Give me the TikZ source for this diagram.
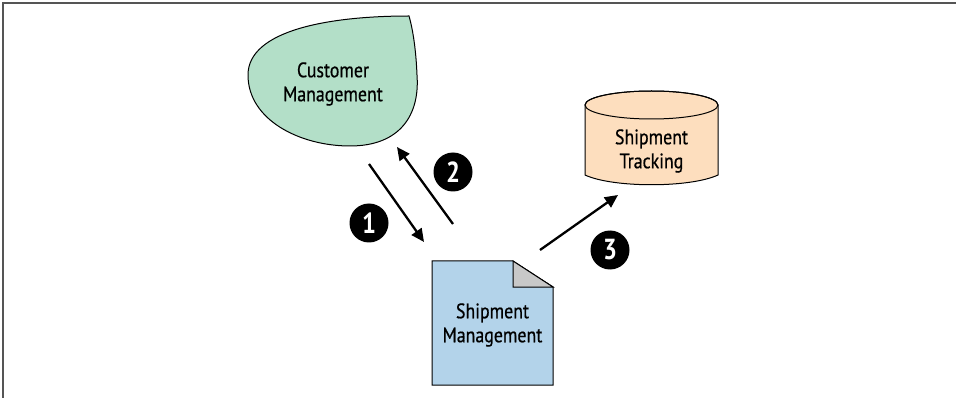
\documentclass[tikz,border=0pt]{standalone}
\usepackage{fontspec}
\setmainfont{PT Sans}
\newfontfamily\condfont[FakeStretch=0.85,FakeBold=0.6]{PT Sans}
\newfontfamily\digitfont[FakeStretch=0.85]{PT Sans Bold}
\usetikzlibrary{arrows.meta}
\definecolor{mint}{HTML}{B3DFC8}
\definecolor{peach}{HTML}{FDDEBE}
\definecolor{docblue}{HTML}{B3D3EA}
\definecolor{foldgray}{HTML}{C8C8C8}
\definecolor{framegray}{HTML}{555555}
\begin{document}
\begin{tikzpicture}[x=1pt,y=-1pt,
  shapeline/.style={draw=black, line width=1pt},
  lbl/.style={font=\condfont\fontsize{21}{24}\selectfont, align=center, text=black, inner sep=0pt},
  arr/.style={line width=2.3pt, -{Triangle[length=13pt,width=12pt]}},
  badge/.style={circle, fill=black, minimum size=39pt, inner sep=0pt, text=white, font=\digitfont\fontsize{29}{29}\selectfont}]
\useasboundingbox (0,0) rectangle (956,398);
% frame
\draw[framegray, line width=1.5pt] (3,398) -- (3,3) -- (956,3);
% Customer Management blob
\path[shapeline, fill=mint] (409,16) .. controls (330,16) and (248,30) .. (248,75)
  .. controls (248,120) and (300,146) .. (350,146)
  .. controls (400,146) and (420,115) .. (417,75)
  .. controls (416,50) and (413,30) .. (409,16) -- cycle;
\node[lbl] (cm) at (333,84) {Customer\\Management};
% Shipment Tracking cylinder
\path[shapeline, fill=peach] (585,105) -- (585,175)
  .. controls (613,188) and (690,188) .. (718,175) -- (718,105)
  .. controls (718,97.3) and (688.2,91) .. (651.5,91)
  .. controls (614.8,91) and (585,97.3) .. (585,105) -- cycle;
\draw[shapeline] (651.5,105) ellipse [x radius=66.5pt, y radius=14pt];
\node[lbl] (st) at (651.5,151) {Shipment\\Tracking};
% Shipment Management document
\path[shapeline, fill=docblue] (432,261) -- (513,261) -- (553,287) -- (553,385) -- (432,385) -- cycle;
\path[shapeline, fill=foldgray] (513,261) -- (513,287) -- (553,287) -- cycle;
\node[lbl] (sm) at (492.5,325) {Shipment\\Management};
% badges
\node[badge] (b1) at (369,223) {1};
\node[badge] (b2) at (453,172) {2};
\node[badge] (b3) at (610,250) {3};
% arrows
\coordinate (a1s) at (369,164);
\coordinate (a1e) at (424,242);
\coordinate (a2s) at (453,224);
\coordinate (a2e) at (397,147);
\coordinate (a3s) at (540,250);
\coordinate (a3e) at (618,195);
\draw[arr] (a1s) -- (a1e);
\draw[arr] (a2s) -- (a2e);
\draw[arr] (a3s) -- (a3e);
\end{tikzpicture}
\end{document}
